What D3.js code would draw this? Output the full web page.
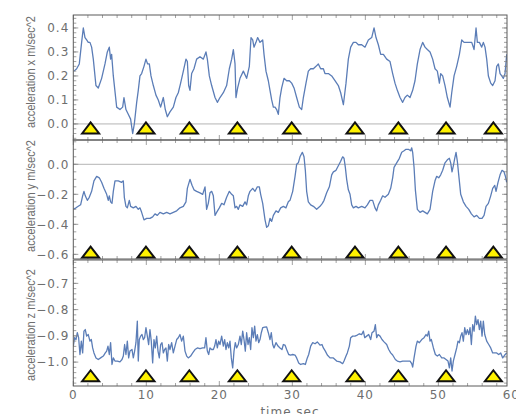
<!DOCTYPE html>
<html>
<head>
<meta charset="utf-8">
<script src="https://cdn.jsdelivr.net/npm/d3@7"></script>
<style>
body { margin: 0; background: #fff; }
</style>
</head>
<body>
<svg id="svg_acc" width="516" height="414"></svg>
<script>
// [time sec, acceleration]
var accXPts = [[0.1,0.22],[0.46,0.23],[0.82,0.25],[1.14,0.34],[1.37,0.40],[1.6,0.36],[1.83,0.35],[2.05,0.34],[2.28,0.34],[2.51,0.32],[2.74,0.27],[3.1,0.16],[3.42,0.15],[3.88,0.19],[4.34,0.25],[4.66,0.30],[4.93,0.32],[5.11,0.27],[5.25,0.29],[5.48,0.20],[5.94,0.07],[6.39,0.06],[6.76,0.07],[6.94,0.11],[7.21,0.06],[7.53,0.04],[7.85,0.02],[8.13,-0.04],[8.36,0.00],[8.68,0.09],[8.9,0.14],[9.13,0.20],[9.36,0.21],[9.68,0.24],[9.95,0.27],[10.18,0.25],[10.41,0.25],[10.64,0.20],[10.96,0.16],[11.32,0.12],[11.64,0.10],[11.96,0.07],[12.33,0.11],[12.6,0.06],[12.88,0.03],[13.24,0.05],[13.7,0.07],[14.06,0.11],[14.38,0.13],[14.7,0.17],[15.07,0.22],[15.43,0.27],[15.62,0.26],[15.8,0.16],[15.98,0.14],[16.21,0.21],[16.53,0.23],[16.89,0.27],[17.35,0.28],[17.81,0.27],[18.17,0.30],[18.36,0.27],[18.63,0.20],[18.95,0.16],[19.41,0.11],[19.73,0.09],[20.09,0.11],[20.55,0.13],[21.0,0.16],[21.37,0.23],[21.69,0.27],[21.92,0.31],[22.15,0.25],[22.28,0.11],[22.51,0.15],[22.83,0.19],[23.29,0.22],[23.74,0.19],[24.11,0.24],[24.34,0.36],[24.57,0.35],[24.75,0.32],[25.02,0.34],[25.25,0.36],[25.57,0.34],[25.94,0.35],[26.12,0.29],[26.39,0.22],[26.71,0.18],[26.94,0.14],[27.17,0.10],[27.4,0.07],[27.63,0.07],[27.85,0.06],[28.08,0.04],[28.31,0.11],[28.54,0.15],[28.86,0.19],[29.22,0.18],[29.59,0.18],[29.91,0.17],[30.23,0.15],[30.59,0.11],[30.96,0.07],[31.28,0.06],[31.51,0.11],[31.87,0.17],[32.19,0.22],[32.51,0.23],[32.88,0.23],[33.24,0.24],[33.56,0.25],[33.88,0.23],[34.25,0.23],[34.47,0.21],[34.93,0.21],[35.39,0.20],[35.84,0.18],[36.3,0.16],[36.62,0.13],[36.99,0.08],[37.35,0.17],[37.67,0.27],[37.99,0.32],[38.36,0.34],[38.72,0.34],[39.04,0.33],[39.5,0.33],[39.95,0.32],[40.41,0.35],[40.87,0.36],[41.19,0.40],[41.46,0.36],[41.78,0.33],[42.1,0.29],[42.47,0.29],[42.92,0.27],[43.38,0.26],[43.74,0.21],[44.06,0.17],[44.38,0.14],[44.75,0.11],[45.11,0.09],[45.43,0.11],[45.75,0.12],[46.12,0.11],[46.48,0.14],[46.8,0.18],[47.12,0.25],[47.49,0.31],[47.85,0.34],[48.17,0.32],[48.49,0.31],[48.86,0.30],[49.22,0.27],[49.54,0.23],[49.86,0.22],[50.14,0.17],[50.32,0.21],[50.59,0.20],[50.91,0.16],[51.23,0.11],[51.6,0.07],[51.83,0.13],[52.15,0.20],[52.51,0.24],[52.88,0.29],[53.2,0.35],[53.52,0.34],[53.88,0.34],[54.25,0.34],[54.57,0.34],[54.89,0.31],[55.16,0.40],[55.34,0.34],[55.62,0.34],[55.94,0.32],[56.16,0.34],[56.39,0.32],[56.62,0.27],[56.85,0.20],[57.17,0.17],[57.44,0.16],[57.76,0.18],[57.99,0.24],[58.22,0.25],[58.45,0.21],[58.68,0.20],[58.9,0.19],[59.13,0.21],[59.36,0.29]];

var accYPts = [[0.0,-0.30],[0.37,-0.29],[0.68,-0.28],[1.0,-0.27],[1.28,-0.21],[1.46,-0.18],[1.64,-0.21],[1.92,-0.24],[2.19,-0.22],[2.51,-0.18],[2.83,-0.11],[3.2,-0.08],[3.56,-0.09],[3.88,-0.12],[4.2,-0.16],[4.57,-0.20],[4.79,-0.24],[4.93,-0.21],[5.11,-0.25],[5.3,-0.26],[5.48,-0.18],[5.71,-0.11],[6.16,-0.11],[6.62,-0.12],[6.85,-0.11],[6.99,-0.22],[7.21,-0.28],[7.4,-0.29],[7.67,-0.24],[7.85,-0.28],[8.22,-0.29],[8.58,-0.28],[8.9,-0.30],[9.13,-0.29],[9.36,-0.32],[9.68,-0.37],[10.05,-0.36],[10.5,-0.36],[10.87,-0.35],[11.19,-0.33],[11.51,-0.34],[11.87,-0.32],[12.33,-0.33],[12.79,-0.32],[13.24,-0.33],[13.7,-0.32],[14.16,-0.31],[14.61,-0.29],[15.07,-0.28],[15.43,-0.25],[15.62,-0.16],[15.98,-0.10],[16.26,-0.14],[16.53,-0.17],[16.89,-0.18],[17.35,-0.19],[17.72,-0.20],[18.04,-0.15],[18.26,-0.30],[18.49,-0.26],[18.72,-0.19],[18.95,-0.18],[19.18,-0.21],[19.41,-0.34],[19.63,-0.32],[20.0,-0.29],[20.32,-0.26],[20.64,-0.27],[21.0,-0.22],[21.37,-0.18],[21.69,-0.20],[21.92,-0.21],[22.15,-0.29],[22.37,-0.28],[22.6,-0.30],[22.83,-0.27],[23.2,-0.28],[23.52,-0.25],[23.74,-0.27],[23.97,-0.21],[24.2,-0.18],[24.57,-0.16],[24.89,-0.18],[25.21,-0.15],[25.48,-0.15],[25.66,-0.20],[25.94,-0.26],[26.26,-0.37],[26.48,-0.42],[26.71,-0.41],[26.94,-0.36],[27.17,-0.38],[27.4,-0.34],[27.76,-0.31],[28.08,-0.32],[28.4,-0.29],[28.77,-0.28],[29.13,-0.29],[29.45,-0.25],[29.68,-0.24],[30.05,-0.18],[30.37,-0.08],[30.59,0.00],[30.82,0.01],[31.05,0.05],[31.37,0.08],[31.6,0.05],[31.78,-0.04],[31.96,-0.18],[32.19,-0.25],[32.51,-0.27],[32.88,-0.28],[33.33,-0.30],[33.79,-0.28],[34.11,-0.26],[34.34,-0.24],[34.7,-0.19],[35.07,-0.15],[35.39,-0.07],[35.62,-0.05],[35.98,-0.04],[36.3,-0.01],[36.62,0.02],[36.89,0.05],[37.08,0.04],[37.26,-0.02],[37.44,-0.10],[37.67,-0.17],[37.9,-0.20],[38.13,-0.27],[38.36,-0.29],[38.72,-0.28],[39.04,-0.29],[39.5,-0.28],[39.95,-0.29],[40.27,-0.27],[40.64,-0.24],[41.0,-0.24],[41.32,-0.29],[41.55,-0.31],[41.78,-0.27],[42.1,-0.24],[42.37,-0.21],[42.69,-0.22],[43.15,-0.20],[43.47,-0.16],[43.74,-0.09],[43.93,-0.02],[44.29,0.01],[44.66,0.04],[44.98,0.08],[45.3,0.09],[45.57,0.10],[45.89,0.10],[46.21,0.09],[46.35,0.11],[46.48,0.08],[46.67,-0.02],[46.85,-0.17],[47.12,-0.30],[47.49,-0.32],[47.85,-0.31],[48.17,-0.32],[48.49,-0.33],[48.86,-0.30],[49.22,-0.18],[49.54,-0.11],[49.77,-0.08],[50.05,-0.09],[50.32,-0.07],[50.59,-0.04],[50.91,0.01],[51.23,0.03],[51.51,0.04],[51.69,0.01],[51.87,-0.05],[52.05,-0.01],[52.24,0.04],[52.42,0.08],[52.6,0.02],[52.83,-0.09],[53.06,-0.20],[53.42,-0.25],[53.79,-0.28],[54.16,-0.30],[54.52,-0.33],[54.89,-0.35],[55.25,-0.34],[55.62,-0.36],[55.98,-0.36],[56.26,-0.34],[56.53,-0.28],[56.85,-0.26],[57.17,-0.21],[57.44,-0.16],[57.72,-0.14],[57.9,-0.18],[58.17,-0.12],[58.45,-0.07],[58.72,-0.04],[58.99,-0.05],[59.18,-0.08],[59.36,-0.12]];

var accZPts = [[0,-0.939],[0.18,-0.907],[0.37,-0.914],[0.55,-0.888],[0.73,-0.907],[0.91,-0.971],[1.10,-0.920],[1.28,-0.965],[1.46,-0.882],[1.64,-0.876],[1.83,-0.901],[2.05,-0.895],[2.28,-0.920],[2.47,-0.914],[2.65,-0.946],[2.83,-0.965],[3.11,-0.984],[3.42,-0.990],[3.74,-0.984],[4.11,-0.977],[4.38,-0.965],[4.57,-0.958],[4.75,-0.939],[4.93,-0.971],[5.11,-0.926],[5.30,-1.009],[5.48,-0.984],[5.71,-0.996],[6.03,-0.996],[6.39,-0.999],[6.67,-0.990],[6.85,-0.977],[7.03,-0.933],[7.21,-0.971],[7.40,-0.920],[7.58,-0.984],[7.76,-0.958],[8.04,-0.952],[8.22,-0.984],[8.40,-0.958],[8.58,-0.926],[8.77,-0.844],[8.90,-0.996],[9.04,-0.914],[9.22,-0.901],[9.41,-0.895],[9.59,-0.914],[9.77,-0.907],[9.95,-0.869],[10.14,-0.901],[10.32,-0.933],[10.50,-0.876],[10.68,-0.920],[10.87,-1.003],[11.05,-0.914],[11.23,-0.946],[11.42,-0.901],[11.60,-0.958],[11.78,-0.984],[11.96,-0.933],[12.15,-0.926],[12.33,-0.965],[12.51,-0.952],[12.69,-0.946],[12.88,-0.996],[13.06,-0.933],[13.24,-0.952],[13.47,-0.926],[13.70,-0.965],[13.93,-0.939],[14.16,-0.914],[14.38,-0.907],[14.61,-0.895],[14.84,-0.920],[15.07,-0.901],[15.30,-0.958],[15.53,-0.977],[15.75,-0.984],[16.07,-0.977],[16.35,-0.965],[16.67,-0.952],[16.99,-0.946],[17.35,-0.949],[17.72,-0.946],[17.99,-0.946],[18.17,-0.907],[18.36,-0.958],[18.54,-0.971],[18.72,-0.946],[18.95,-0.952],[19.18,-0.952],[19.36,-0.939],[19.54,-0.914],[19.73,-0.946],[19.91,-0.920],[20.09,-0.933],[20.32,-0.901],[20.55,-0.939],[20.73,-0.914],[20.91,-0.952],[21.10,-0.926],[21.28,-0.946],[21.46,-0.920],[21.64,-0.984],[21.83,-1.022],[22.01,-0.958],[22.19,-0.926],[22.37,-0.946],[22.60,-0.933],[22.83,-0.901],[23.01,-0.933],[23.20,-0.882],[23.38,-0.914],[23.56,-0.958],[23.74,-0.888],[23.93,-0.933],[24.11,-0.907],[24.29,-0.952],[24.47,-0.869],[24.66,-0.907],[24.84,-0.863],[25.02,-0.920],[25.21,-0.895],[25.39,-0.926],[25.57,-0.914],[25.75,-0.888],[25.94,-0.869],[26.21,-0.867],[26.48,-0.866],[26.71,-0.888],[26.94,-0.914],[27.12,-0.888],[27.31,-0.933],[27.49,-0.946],[27.76,-0.926],[28.04,-0.939],[28.31,-0.946],[28.58,-0.952],[28.77,-0.933],[28.99,-0.935],[29.22,-0.952],[29.50,-0.971],[29.77,-0.973],[30.05,-0.971],[30.37,-0.973],[30.59,-0.984],[30.87,-1.003],[31.14,-1.009],[31.51,-1.006],[31.78,-1.009],[32.05,-0.984],[32.24,-0.971],[32.51,-0.939],[32.79,-0.926],[33.11,-0.930],[33.42,-0.923],[33.79,-0.935],[34.06,-0.933],[34.25,-0.946],[34.52,-0.958],[34.79,-0.973],[35.16,-0.984],[35.62,-0.984],[36.07,-0.996],[36.53,-0.999],[36.89,-1.006],[37.08,-0.996],[37.35,-0.977],[37.53,-0.965],[37.81,-0.939],[37.99,-0.907],[38.26,-0.901],[38.58,-0.901],[38.90,-0.897],[39.18,-0.892],[39.50,-0.895],[39.73,-0.882],[39.91,-0.907],[40.18,-0.901],[40.46,-0.895],[40.73,-0.914],[40.91,-0.888],[41.19,-0.882],[41.37,-0.857],[41.55,-0.907],[41.74,-0.895],[42.01,-0.901],[42.28,-0.914],[42.56,-0.923],[42.92,-0.933],[43.20,-0.952],[43.47,-0.965],[43.74,-0.973],[44.11,-0.990],[44.38,-0.996],[44.75,-0.999],[45.11,-0.996],[45.43,-0.996],[45.75,-0.996],[46.12,-0.996],[46.35,-1.006],[46.48,-1.019],[46.67,-0.984],[46.94,-0.939],[47.12,-0.920],[47.40,-0.926],[47.72,-0.914],[48.04,-0.907],[48.31,-0.895],[48.49,-0.901],[48.68,-0.882],[48.86,-0.920],[49.04,-0.914],[49.32,-0.946],[49.59,-0.971],[49.86,-0.977],[50.14,-0.971],[50.46,-0.984],[50.78,-0.984],[51.05,-0.990],[51.32,-0.996],[51.51,-1.022],[51.69,-0.984],[51.87,-1.034],[52.05,-0.996],[52.28,-0.971],[52.51,-0.946],[52.69,-0.920],[52.88,-0.926],[53.06,-0.901],[53.24,-0.888],[53.42,-0.920],[53.61,-0.869],[53.79,-0.895],[53.97,-0.876],[54.16,-0.895],[54.34,-0.869],[54.52,-0.933],[54.70,-0.857],[54.89,-0.882],[55.07,-0.825],[55.25,-0.857],[55.43,-0.838],[55.62,-0.876],[55.80,-0.844],[55.98,-0.901],[56.16,-0.844],[56.35,-0.895],[56.62,-0.920],[56.90,-0.933],[57.17,-0.946],[57.44,-0.965],[57.72,-0.965],[57.99,-0.965],[58.26,-0.971],[58.54,-0.965],[58.81,-0.984],[59.09,-0.973],[59.36,-0.965]];

var eventTimes = [2.37, 9.95, 15.89, 22.47, 29.91, 38.58, 44.52, 51.05, 57.53];
var timeTicks = [0, 10, 20, 30, 40, 50, 60];
var ticksAccX = [0.0, 0.1, 0.2, 0.3, 0.4];
var ticksAccY = [-0.6, -0.4, -0.2, 0.0];
var ticksAccZ = [-1.0, -0.9, -0.8, -0.7];
var axisLabels = ["acceleration x m/sec^2", "acceleration y m/sec^2", "acceleration z m/sec^2"];
var timeLabel = "time sec";

var svg_acc = d3.select("svg#svg_acc");
var plot_left = 73.3, plot_right = 507;
var line_col = "#5b7db7";
var fmt = d3.format(".1f");

var x_acc = d3.scaleLinear().domain([0, 59.4]).range([plot_left, plot_right]);
var x_minor = d3.range(0, 60, 2);

// one entry per stacked panel
var panels = [
	{pts: accXPts, top: 15, bottom: 140, dom: [-0.067, 0.454], major: ticksAccX, minorStep: 0.02, grid: true, mark: -0.017, labelY: 72, label: axisLabels[0]},
	{pts: accYPts, top: 140, bottom: 259, dom: [-0.631, 0.162], major: ticksAccY, minorStep: 0.05, grid: true, mark: -0.585, labelY: 196, label: axisLabels[1]},
	{pts: accZPts, top: 260, bottom: 386, dom: [-1.091, -0.611], major: ticksAccZ, minorStep: 0.02, grid: false, mark: -1.052, labelY: 325, label: axisLabels[2]}
];

panels.forEach(function(p, i) {
	var y = d3.scaleLinear().domain(p.dom).range([p.bottom, p.top]);
	var g = svg_acc.append("g").attr("class", "panel");

	g.append("clipPath").attr("id", "clip" + i)
	.append("rect")
	.attr("x", plot_left).attr("y", p.top)
	.attr("width", plot_right - plot_left).attr("height", p.bottom - p.top);

	// zero line
	if (p.grid) {
		g.append("line")
		.attr("x1", plot_left).attr("x2", plot_right)
		.attr("y1", y(0)).attr("y2", y(0))
		.attr("stroke", "#b4b4b4").attr("stroke-width", 1);
	}

	// the trace
	var line = d3.line()
	.x(function(d) { return x_acc(d[0]); })
	.y(function(d) { return y(d[1]); });

	g.append("path")
	.datum(p.pts)
	.attr("clip-path", "url(#clip" + i + ")")
	.attr("fill", "none")
	.attr("stroke", line_col)
	.attr("stroke-width", 1.3)
	.attr("stroke-linejoin", "round")
	.attr("d", line);

	// minor + major ticks on all four sides, pointing in
	var y_minor = d3.range(Math.ceil(p.dom[0] / p.minorStep) * p.minorStep, p.dom[1], p.minorStep);
	var tk = g.append("g").attr("stroke", "#8a8a8a").attr("stroke-width", 0.8);
	y_minor.forEach(function(v) {
		tk.append("line").attr("x1", plot_left).attr("x2", plot_left + 3).attr("y1", y(v)).attr("y2", y(v));
		tk.append("line").attr("x1", plot_right).attr("x2", plot_right - 3).attr("y1", y(v)).attr("y2", y(v));
	});
	p.major.forEach(function(v) {
		tk.append("line").attr("x1", plot_left).attr("x2", plot_left + 5).attr("y1", y(v)).attr("y2", y(v));
		tk.append("line").attr("x1", plot_right).attr("x2", plot_right - 5).attr("y1", y(v)).attr("y2", y(v));
	});
	x_minor.forEach(function(t) {
		var len = (t % 10 === 0) ? 5 : 3;
		tk.append("line").attr("x1", x_acc(t)).attr("x2", x_acc(t)).attr("y1", p.top).attr("y2", p.top + len);
		tk.append("line").attr("x1", x_acc(t)).attr("x2", x_acc(t)).attr("y1", p.bottom).attr("y2", p.bottom - len);
	});

	// frame
	g.append("rect")
	.attr("x", plot_left).attr("y", p.top)
	.attr("width", plot_right - plot_left).attr("height", p.bottom - p.top)
	.attr("fill", "none").attr("stroke", "#5a5a5a").attr("stroke-width", 1);

	// y tick labels
	g.selectAll(".ylab")
	.data(p.major)
	.enter().append("text")
	.attr("x", plot_left - 4)
	.attr("y", function(d) { return y(d); })
	.attr("dy", "0.36em")
	.attr("text-anchor", "end")
	.attr("font-family", "DejaVu Sans")
	.attr("font-size", 12)
	.attr("letter-spacing", 1)
	.attr("fill", "#6e6e6e")
	.text(function(d) { return fmt(d); });

	// y axis title
	g.append("text")
	.attr("transform", "translate(35," + p.labelY + ") rotate(-90)")
	.attr("text-anchor", "middle")
	.attr("font-family", "Liberation Sans Narrow, Liberation Sans")
	.attr("font-size", 13)
	.attr("textLength", 112)
	.attr("lengthAdjust", "spacingAndGlyphs")
	.attr("fill", "#6e6e6e")
	.text(p.label);

	// event markers
	g.selectAll(".mark")
	.data(eventTimes)
	.enter().append("path")
	.attr("d", function(t) {
		var cx = x_acc(t), cy = y(p.mark);
		return "M" + (cx - 8.5) + "," + (cy + 5.5) + "L" + cx + "," + (cy - 5.5) + "L" + (cx + 8.5) + "," + (cy + 5.5) + "Z";
	})
	.attr("fill", "#fff200")
	.attr("stroke", "#111")
	.attr("stroke-width", 2)
	.attr("stroke-linejoin", "miter");
}); // panels

// time axis labels under the bottom panel
svg_acc.selectAll(".xlab")
.data(timeTicks)
.enter().append("text")
.attr("x", function(d) { return x_acc(d); })
.attr("y", 399)
.attr("text-anchor", "middle")
.attr("font-family", "DejaVu Sans")
.attr("font-size", 12)
.attr("letter-spacing", 1)
.attr("fill", "#6e6e6e")
.text(function(d) { return d; });

svg_acc.append("text")
.attr("x", 290).attr("y", 416)
.attr("text-anchor", "middle")
.attr("font-family", "DejaVu Sans")
.attr("font-size", 12)
.attr("letter-spacing", 1)
.attr("fill", "#6e6e6e")
.text(timeLabel);
</script>
</body>
</html>
